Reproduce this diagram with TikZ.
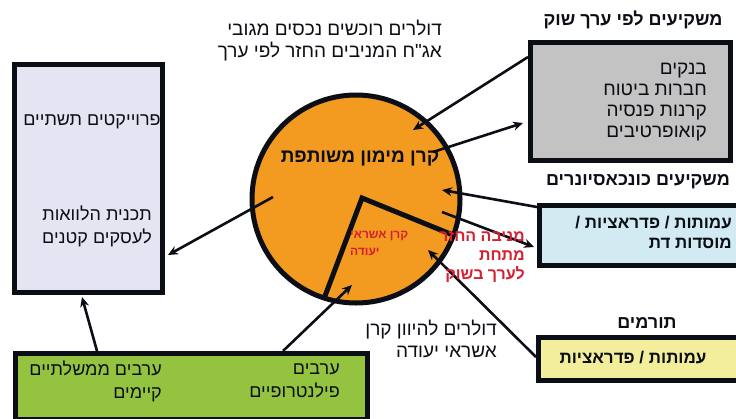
\documentclass[tikz,border=0pt]{standalone}
\usepackage{fontspec}
\newfontfamily\hebfont[Script=Hebrew]{Liberation Sans}
\TeXXeTstate=1
\usetikzlibrary{arrows.meta}

\definecolor{edge}{RGB}{11,14,20}
\definecolor{fundorange}{RGB}{243,154,32}
\definecolor{projlilac}{RGB}{228,228,242}
\definecolor{mktgray}{RGB}{195,195,195}
\definecolor{concblue}{RGB}{210,234,241}
\definecolor{donoryellow}{RGB}{243,238,155}
\definecolor{guargreen}{RGB}{148,196,63}
\definecolor{notered}{RGB}{212,32,48}

\newcommand{\rtl}[1]{\beginR #1\endR}

\begin{document}
\begin{tikzpicture}[x=1pt, y=-1pt,
    box/.style={draw=edge, line width=5pt, inner sep=0pt, anchor=north west},
    flow/.style={draw=edge, line width=2.6pt, -{Stealth[length=10pt,width=9pt]}},
    txt/.style={font=\hebfont\fontsize{19}{22}\selectfont, inner sep=0pt, text=edge},
    small/.style={txt, font=\hebfont\fontsize{18}{23}\selectfont},
    head/.style={txt, font=\hebfont\bfseries\fontsize{18}{21}\selectfont},
    note/.style={inner sep=0pt, text=notered, font=\hebfont\bfseries\fontsize{16}{19}\selectfont}]

    \useasboundingbox (0,0) rectangle (736,418);

    % Boxes
    \node[box, fill=projlilac, minimum width=148pt, minimum height=228pt] (proj) at (12,62) {};
    \node[box, fill=mktgray, minimum width=200pt, minimum height=118pt] (mkt) at (528,40) {};
    \node[box, fill=concblue, minimum width=203pt, minimum height=60pt] (conc) at (537,203) {};
    \node[box, fill=donoryellow, minimum width=204pt, minimum height=43pt] (donor) at (536,335) {};
    \node[box, fill=guargreen, minimum width=352pt, minimum height=66pt] (guar) at (13,351) {};

    % Fund circle
    \node[circle, draw=edge, fill=fundorange, line width=5pt, minimum size=208pt] (fund) at (356,199) {};
    \draw[edge, line width=5pt] (325,296) -- (362,198) -- (453,235);

    % Arrow ends
    \coordinate (mktin) at (528,57);
    \coordinate (mktout) at (523,123);
    \coordinate (fundin) at (413,130);
    \coordinate (fundout) at (433,152);
    \coordinate (concin) at (534,247);
    \coordinate (concout) at (537,207);
    \coordinate (retin) at (442,190);
    \coordinate (retout) at (442,212);
    \coordinate (donorout) at (536,357);
    \coordinate (credin) at (428,250);
    \coordinate (guarout) at (283,351);
    \coordinate (guarin) at (352,285);
    \coordinate (govout) at (97,351);
    \coordinate (projin) at (82,297);
    \coordinate (loanout) at (273,197);
    \coordinate (loanin) at (168,255);

    % Flows
    \draw[flow] (mktin) -- (fundin);
    \draw[flow] (fundout) -- (mktout);
    \draw[flow] (concout) -- (retin);
    \draw[flow] (retout) -- (concin);
    \draw[flow] (donorout) -- (credin);
    \draw[flow] (guarout) -- (guarin);
    \draw[flow] (govout) -- (projin);
    \draw[flow] (loanout) -- (loanin);

    % Labels
    \node[txt, anchor=east, align=right] (buy) at (442,41)
        {\rtl{דולרים רוכשים נכסים מגובי}\\\rtl{אג"ח המניבים החזר לפי ערך}};
    \node[head, font=\hebfont\bfseries\fontsize{19}{22}\selectfont] (fundname) at (360,158) {\rtl{קרן מימון משותפת}};
    \node[note, anchor=west, align=left, font=\hebfont\bfseries\fontsize{12}{17}\selectfont] (credit) at (350,243)
        {\rtl{קרן אשראי}\\\rtl{יעודה}};
    \node[note, anchor=east, align=right] (below) at (525,257)
        {\rtl{מניבה החזר}\\\rtl{מתחת}\\\rtl{לערך בשוק}};
    \node[txt, anchor=east, align=right] (disc) at (497,339)
        {\rtl{דולרים להיוון קרן}\\\rtl{אשראי יעודה}};

    \node[small] (infra) at (92,122) {\rtl{פרוייקטים תשתיים}};
    \node[small, align=center] (loans) at (97,226) {\rtl{תכנית הלוואות}\\\rtl{לעסקים קטנים}};

    \node[head] (mkthead) at (633,20) {\rtl{משקיעים לפי ערך שוק}};
    \node[txt, anchor=east, align=right, font=\hebfont\fontsize{19}{21}\selectfont] (mktlist) at (707,102)
        {\rtl{בנקים}\\\rtl{חברות ביטוח}\\\rtl{קרנות פנסיה}\\\rtl{קואופרטיבים}};

    \node[head] (conchead) at (638,182) {\rtl{משקיעים כונכאסיונרים}};
    \node[head, anchor=east, align=right, font=\hebfont\bfseries\fontsize{17}{20}\selectfont] (conclist) at (732,232)
        {\rtl{עמותות / פדראציות /}\\\rtl{מוסדות דת}};

    \node[head] (donorhead) at (647,323) {\rtl{תורמים}};
    \node[head, font=\hebfont\bfseries\fontsize{17}{20}\selectfont] (donorlist) at (633,358) {\rtl{עמותות / פדראציות}};

    \node[small, anchor=east, align=right] (gov) at (162,381)
        {\rtl{ערבים ממשלתיים}\\\rtl{קיימים}};
    \node[small, anchor=east, align=right] (phil) at (340,381)
        {\rtl{ערבים}\\\rtl{פילנטרופיים}};

\end{tikzpicture}
\end{document}
